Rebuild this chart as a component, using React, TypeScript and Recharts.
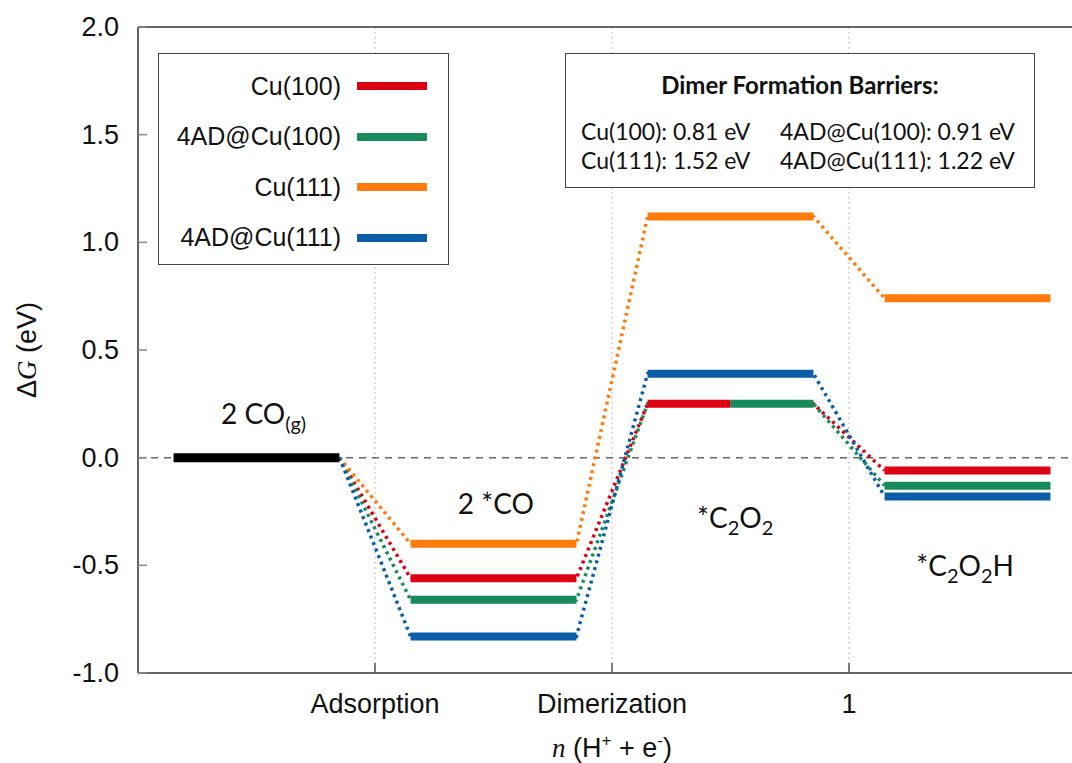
import React from "react"
import { LineChart, Line, XAxis, YAxis, CartesianGrid, ReferenceLine, ReferenceDot } from "recharts"

// series and their free energies (eV) for each state
const SERIES_NAMES = ["Cu(100)", "4AD@Cu(100)", "Cu(111)", "4AD@Cu(111)"]
const SERIES_COLORS = ["#dd0015", "#178b5b", "#ff7b0c", "#0b5da6"]
const GAS_LEVEL = 0.0
const ADSORPTION = [-0.56, -0.66, -0.4, -0.83]
const DIMER = [0.25, 0.25, 1.12, 0.39]
const C2O2H = [-0.06, -0.13, 0.74, -0.18]
const BARRIERS = [0.81, 0.91, 1.52, 1.22]

// level spans inside each state slot (fraction of a slot)
const SPAN = [0.15, 0.85]
const DIMER_SPANS = [
  [0.15, 0.5],
  [0.5, 0.85],
  [0.15, 0.85],
  [0.15, 0.85],
]

const X_TICKS = [1, 2, 3]
const X_TICK_LABELS = ["Adsorption", "Dimerization", "1"]
const Y_TICKS = [-1, -0.5, 0, 0.5, 1, 1.5, 2]

const STATE_LABELS = [
  { x: 0.53, y: 0.157, text: "2 CO", sub: "(g)", tail: "" },
  { x: 1.51, y: -0.262, text: "2 *CO", sub: "", tail: "" },
  { x: 2.52, y: -0.327, text: "*C", sub: "2", tail: "O", sub2: "2" },
  { x: 3.49, y: -0.55, text: "*C", sub: "2", tail: "O", sub2: "2", end: "H" },
]

const SANS = "'Liberation Sans', Arial, Helvetica, sans-serif"
const LABEL_FONT = "Lato, 'Open Sans', sans-serif"

const gasData = [
  { x: SPAN[0], y: GAS_LEVEL },
  { x: SPAN[1], y: GAS_LEVEL },
]

function dottedData(i: number) {
  return [
    { x: SPAN[1], y: GAS_LEVEL },
    { x: 1 + SPAN[0], y: ADSORPTION[i] },
    { x: 1 + SPAN[1], y: ADSORPTION[i] },
    { x: 2 + SPAN[0], y: DIMER[i] },
    { x: 2 + SPAN[1], y: DIMER[i] },
    { x: 3 + SPAN[0], y: C2O2H[i] },
  ]
}

function levelData(i: number) {
  return [
    { x: 1 + SPAN[0], y: ADSORPTION[i] },
    { x: 1 + SPAN[1], y: ADSORPTION[i] },
    { x: 2, y: null },
    { x: 2 + DIMER_SPANS[i][0], y: DIMER[i] },
    { x: 2 + DIMER_SPANS[i][1], y: DIMER[i] },
    { x: 3, y: null },
    { x: 3 + SPAN[0], y: C2O2H[i] },
    { x: 3 + SPAN[1], y: C2O2H[i] },
  ]
}

const YTick = (props: any) => {
  const { x, y, payload } = props
  return (
    <g>
      <line x1={x} x2={x + 9} y1={y} y2={y} stroke="#888" strokeWidth={1.5} />
      <text x={x - 19} y={y} textAnchor="end" dominantBaseline="central" fontFamily={SANS} fontSize={27} fill="#111">
        {payload.value.toFixed(1)}
      </text>
    </g>
  )
}

const XTick = (props: any) => {
  const { x, y, payload } = props
  return (
    <g>
      <line x1={x} x2={x} y1={y} y2={y - 10} stroke="#555" strokeWidth={1.5} />
      <text x={x} y={y + 40} textAnchor="middle" fontFamily={SANS} fontSize={27} fill="#111">
        {X_TICK_LABELS[X_TICKS.indexOf(payload.value)]}
      </text>
    </g>
  )
}

const StateLabel = ({ viewBox, item }: any) => {
  const { x, y } = viewBox
  return (
    <text x={x} y={y} textAnchor="middle" fontFamily={LABEL_FONT} fontSize={28} fill="#111">
      {item.text}
      {item.sub && (
        <tspan fontSize={20} dy={7}>
          {item.sub}
        </tspan>
      )}
      {item.tail && (
        <tspan fontSize={28} dy={-7}>
          {item.tail}
        </tspan>
      )}
      {item.sub2 && (
        <tspan fontSize={20} dy={7}>
          {item.sub2}
        </tspan>
      )}
      {item.end && (
        <tspan fontSize={28} dy={-7}>
          {item.end}
        </tspan>
      )}
    </text>
  )
}

const YLabel = ({ viewBox }: any) => {
  const cx = 27
  const cy = viewBox.y + viewBox.height / 2
  return (
    <text
      x={cx}
      y={cy}
      transform={`rotate(-90, ${cx}, ${cy})`}
      textAnchor="middle"
      dominantBaseline="central"
      fontFamily={SANS}
      fontSize={27}
      fill="#111"
    >
      Δ<tspan fontFamily="'Liberation Serif', serif" fontStyle="italic">G</tspan> (eV)
    </text>
  )
}

const XLabel = ({ viewBox }: any) => {
  const cx = viewBox.x + viewBox.width / 2
  return (
    <text x={cx} y={757} textAnchor="middle" fontFamily={SANS} fontSize={27} fill="#111">
      <tspan fontFamily="'Liberation Serif', serif" fontStyle="italic">n</tspan> (H
      <tspan fontSize={17} dy={-11}>+</tspan>
      <tspan dy={11}> + e</tspan>
      <tspan fontSize={17} dy={-11}>-</tspan>
      <tspan dy={11}>)</tspan>
    </text>
  )
}

export default function App() {
  return (
    <div style={{ position: "absolute", left: 0, top: 0, width: 1072, height: 763, overflow: "hidden", background: "#fff" }}>
      <LineChart width={1100} height={763} margin={{ top: 27, right: 14, left: 0, bottom: 0 }}>
        <CartesianGrid horizontal={false} stroke="#bbb" strokeDasharray="2 3" />
        <CartesianGrid vertical={false} horizontalValues={[0]} stroke="#666" strokeWidth={1.5} strokeDasharray="7 6" />
        <XAxis
          type="number"
          dataKey="x"
          domain={[0, 4]}
          ticks={X_TICKS}
          height={90}
          tickSize={0}
          tickMargin={0}
          tick={<XTick />}
          axisLine={{ stroke: "#333", strokeWidth: 1.5 }}
          tickLine={false}
          allowDataOverflow
          label={<XLabel />}
        />
        <YAxis
          type="number"
          domain={[-1, 2]}
          ticks={Y_TICKS}
          width={138}
          tickSize={0}
          tickMargin={0}
          tick={<YTick />}
          axisLine={{ stroke: "#333", strokeWidth: 1.5 }}
          tickLine={false}
          allowDataOverflow
          label={<YLabel />}
        />
        <ReferenceLine y={2} stroke="#333" strokeWidth={1.5} />
        {SERIES_NAMES.map((name, i) => (
          <Line
            key={`dots-${name}`}
            data={dottedData(i)}
            dataKey="y"
            stroke={SERIES_COLORS[i]}
            strokeWidth={3.5}
            strokeDasharray="3 4"
            dot={false}
            activeDot={false}
            isAnimationActive={false}
            legendType="none"
          />
        ))}
        <Line data={gasData} dataKey="y" stroke="#000" strokeWidth={9} dot={false} activeDot={false} isAnimationActive={false} />
        {SERIES_NAMES.map((name, i) => (
          <Line
            key={`level-${name}`}
            name={name}
            data={levelData(i)}
            dataKey="y"
            stroke={SERIES_COLORS[i]}
            strokeWidth={8}
            dot={false}
            activeDot={false}
            connectNulls={false}
            isAnimationActive={false}
          />
        ))}
        {STATE_LABELS.map((item, i) => (
          <ReferenceDot key={i} x={item.x} y={item.y} r={0} fill="none" stroke="none" label={<StateLabel item={item} />} />
        ))}
      </LineChart>

      {/* series legend */}
      <div
        style={{
          position: "absolute",
          left: 158,
          top: 53,
          width: 291,
          height: 212,
          boxSizing: "border-box",
          border: "1.5px solid #444",
          background: "#fff",
        }}
      >
        {SERIES_NAMES.map((name, i) => (
          <div
            key={name}
            style={{ position: "absolute", left: 0, top: 32 + i * 50.5 - 19, height: 38, width: 291, display: "flex", alignItems: "center" }}
          >
            <div style={{ width: 182, textAlign: "right", fontFamily: SANS, fontSize: 25, color: "#111" }}>{name}</div>
            <div style={{ marginLeft: 16, width: 70, height: 8, background: SERIES_COLORS[i] }} />
          </div>
        ))}
      </div>

      {/* barrier box */}
      <div
        style={{
          position: "absolute",
          left: 565,
          top: 53,
          width: 470,
          height: 135,
          boxSizing: "border-box",
          border: "1.5px solid #444",
          background: "#fff",
          fontFamily: LABEL_FONT,
          color: "#111",
        }}
      >
        <div style={{ position: "absolute", left: 0, width: "100%", top: 15, textAlign: "center", fontWeight: 700, fontSize: 24, lineHeight: "32px" }}>
          Dimer Formation Barriers:
        </div>
        {[0, 2].map((row, r) => (
          <div key={row} style={{ position: "absolute", top: 62 + r * 28.5, left: 0, width: "100%", fontSize: 23, lineHeight: "30px" }}>
            <span style={{ position: "absolute", left: 15 }}>
              {SERIES_NAMES[row]}: {BARRIERS[row].toFixed(2)} eV
            </span>
            <span style={{ position: "absolute", left: 214 }}>
              {SERIES_NAMES[row + 1]}: {BARRIERS[row + 1].toFixed(2)} eV
            </span>
          </div>
        ))}
      </div>
    </div>
  )
}
